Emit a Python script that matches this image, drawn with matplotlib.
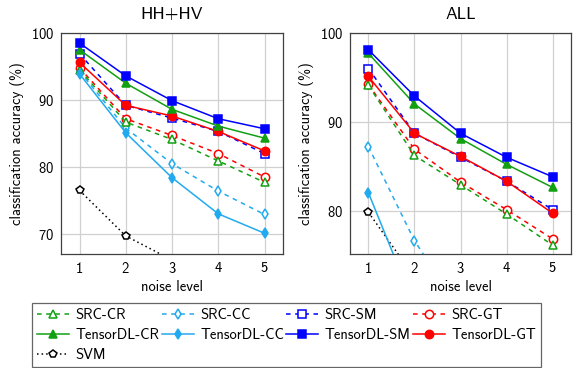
import numpy as np
import matplotlib
matplotlib.use("Agg")
import matplotlib.pyplot as plt

plt.rcParams['font.family'] = ['cmss10', 'DejaVu Sans']
plt.rcParams['font.size'] = 10.5
plt.rcParams['axes.formatter.use_mathtext'] = True
plt.rcParams['axes.unicode_minus'] = False

noise = [1, 2, 3, 4, 5]

# HH+HV panel
hh_src_cr = [94.5, 86.7, 84.1, 80.9, 77.7]
hh_src_cc = [94.3, 85.8, 80.5, 76.4, 72.9]
hh_src_sm = [96.9, 89.2, 87.3, 85.3, 82.0]
hh_src_gt = [94.8, 87.2, 84.7, 82.0, 78.5]
hh_tdl_cr = [97.5, 92.5, 88.6, 86.1, 84.3]
hh_tdl_cc = [93.9, 85.1, 78.4, 73.0, 70.1]
hh_tdl_sm = [98.5, 93.6, 89.9, 87.2, 85.7]
hh_tdl_gt = [95.6, 89.2, 87.6, 85.3, 82.4]
hh_svm = [76.5, 69.7, 66.1, 63.5, 61.0]

# ALL panel
all_src_cr = [94.1, 86.2, 82.9, 79.6, 76.1]
all_src_cc = [87.2, 76.6, 68.7, 64.0, 60.5]
all_src_sm = [96.0, 88.7, 86.0, 83.3, 80.1]
all_src_gt = [94.2, 86.9, 83.2, 80.1, 76.8]
all_tdl_cr = [97.7, 92.0, 88.1, 85.2, 82.6]
all_tdl_cc = [82.0, 69.2, 64.0, 60.0, 57.0]
all_tdl_sm = [98.1, 92.9, 88.7, 86.0, 83.8]
all_tdl_gt = [95.1, 88.7, 86.1, 83.3, 79.7]
all_svm = [79.8, 72.5, 68.0, 64.5, 61.5]

green = '#12a012'
cyan = '#22aaee'
blue = '#0000ff'
red = '#ff0000'

# name, color, linestyle, marker, filled
styles = [
    ('SRC-CR', green, (0, (3, 3)), '^', False),
    ('SRC-CC', cyan, (0, (3, 3)), 'd', False),
    ('SRC-SM', blue, (0, (3, 3)), 's', False),
    ('SRC-GT', red, (0, (3, 3)), 'o', False),
    ('TensorDL-CR', green, '-', '^', True),
    ('TensorDL-CC', cyan, '-', 'd', True),
    ('TensorDL-SM', blue, '-', 's', True),
    ('TensorDL-GT', red, '-', 'o', True),
    ('SVM', 'black', (0, (1, 2)), 'p', False),
]

hh = [hh_src_cr, hh_src_cc, hh_src_sm, hh_src_gt,
      hh_tdl_cr, hh_tdl_cc, hh_tdl_sm, hh_tdl_gt, hh_svm]
al = [all_src_cr, all_src_cc, all_src_sm, all_src_gt,
      all_tdl_cr, all_tdl_cc, all_tdl_sm, all_tdl_gt, all_svm]

fig = plt.figure(figsize=(5.73, 3.68), dpi=100)
W, H = 573, 368
ax1 = fig.add_axes([61 / W, 1 - 254 / H, 222 / W, 221 / H])
ax2 = fig.add_axes([350 / W, 1 - 254 / H, 221 / W, 221 / H])

# draw order: SVM at back, then dashed, then solid
order = [8, 3, 1, 0, 2, 5, 7, 4, 6]

handles = {}
for ax, data, title, ylim, yt in [(ax1, hh, 'HH+HV', (67, 100), [70, 80, 90, 100]),
                                  (ax2, al, 'ALL', (75.1, 100), [80, 90, 100])]:
    for i in order:
        name, c, ls, m, filled = styles[i]
        ms = {'s': 5.5, 'o': 6, '^': 6, 'd': 5.5, 'p': 6}[m]
        h, = ax.plot(noise, data[i], color=c, linestyle=ls, marker=m,
                     markersize=ms, markerfacecolor=c if filled else 'white',
                     markeredgecolor=c, markeredgewidth=1.1, linewidth=1.1,
                     label=name, zorder=3 + (1 if filled else 0))
        handles[i] = h
    ax.set_xlim(0.6, 5.4)
    ax.set_ylim(*ylim)
    ax.set_xticks(noise)
    ax.set_yticks(yt)
    ax.grid(True, color='#d0d0d0', linewidth=0.9)
    ax.set_axisbelow(True)
    ax.tick_params(length=0, pad=5)
    for s in ax.spines.values():
        s.set_color('#404040')
        s.set_linewidth(0.9)
    ax.set_title(title, pad=10)
    ax.set_xlabel('noise level', labelpad=3)
    ax.set_ylabel('classification accuracy (%)', labelpad=4)

# column-major fill so that rows read across
leg_order = [0, 4, 8, 1, 5, 2, 6, 3, 7]
leg = fig.legend([handles[i] for i in leg_order], [styles[i][0] for i in leg_order],
                 ncol=4, loc='lower left',
                 bbox_to_anchor=(32 / W, 1 - 367 / H, 509 / W, 64 / H),
                 mode='expand', frameon=True, fancybox=False,
                 handlelength=2.2, handletextpad=0.45, columnspacing=0.3,
                 labelspacing=0.42, borderaxespad=0, borderpad=0.35,
                 fontsize=10.5)
leg.get_frame().set_edgecolor('#404040')
leg.get_frame().set_linewidth(0.9)

fig.savefig('out.png', dpi=100)
